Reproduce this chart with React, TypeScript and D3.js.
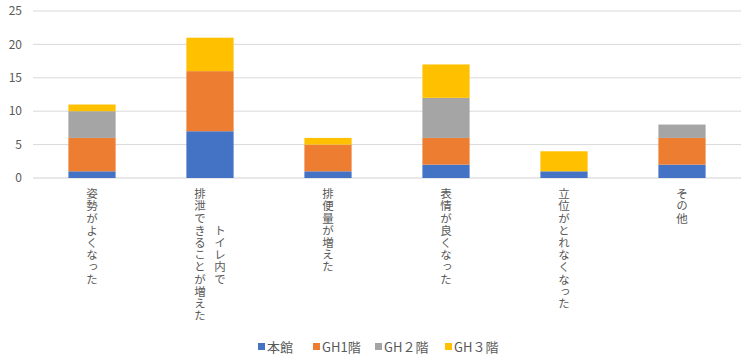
import React from "react";
import * as d3 from "d3";

const categories = [
  "姿勢がよくなった",
  "トイレ内で\n排泄できることが増えた",
  "排便量が増えた",
  "表情が良くなった",
  "立位がとれなくなった",
  "その他",
];
const seriesNames = ["本館", "GH1階", "GH２階", "GH３階"];
const honkan = [1, 7, 1, 2, 1, 2];
const gh1 = [5, 9, 4, 4, 0, 4];
const gh2 = [4, 0, 0, 6, 0, 2];
const gh3 = [1, 5, 1, 5, 3, 0];
const yTicks = [0, 5, 10, 15, 20, 25];
const colors = ["#4472C4", "#ED7D31", "#A5A5A5", "#FFC000"];

const W = 750;
const H = 360;
const left = 33;
const right = 741;
const top = 11;
const bottom = 178;
const font = "'Noto Sans CJK JP', 'Noto Sans', sans-serif";

export default function App() {
  const seriesVals = [honkan, gh1, gh2, gh3];
  const rows = categories.map((c, i) => {
    const r: any = { cat: c };
    seriesNames.forEach((s, j) => (r[s] = seriesVals[j][i]));
    return r;
  });
  const stack = d3.stack<any>().keys(seriesNames)(rows);
  const x = d3.scaleBand().domain(categories).range([left, right]).paddingInner(0.6).paddingOuter(0.3);
  const y = d3.scaleLinear().domain([0, 25]).range([bottom, top]);

  const adv = 12.2;
  const labelTop = 188;

  const legendItems = [
    { x: 258, name: seriesNames[0] },
    { x: 313, name: seriesNames[1] },
    { x: 375, name: seriesNames[2] },
    { x: 445, name: seriesNames[3] },
  ];

  return (
    <svg width={W} height={H} style={{ position: "absolute", left: 0, top: 0, background: "#fff" }}>
      {yTicks.map((t) => (
        <g key={t}>
          <line x1={left} x2={right} y1={y(t)} y2={y(t)} stroke={t === 0 ? "#d0d0d0" : "#d9d9d9"} strokeWidth={1} />
          <text x={22} y={y(t)} dy="0.35em" textAnchor="end" fontSize={12} fill="#595959" fontFamily={font}>
            {t}
          </text>
        </g>
      ))}
      {stack.map((s, j) => (
        <g key={s.key} fill={colors[j]}>
          {s.map((d, i) =>
            d[1] - d[0] > 0 ? (
              <rect key={i} x={x(categories[i])} width={x.bandwidth()} y={y(d[1])} height={y(d[0]) - y(d[1])} />
            ) : null
          )}
        </g>
      ))}
      {categories.map((c) => {
        const lines = c.split("\n");
        const L = Math.max(...lines.map((l) => l.length));
        const cy = labelTop + (L * adv) / 2;
        const cx = (x(c) as number) + x.bandwidth() / 2;
        const n = lines.length;
        return (
          <g key={c}>
            {lines.map((l, i) => (
              <text
                key={i}
                x={cx + ((n - 1) / 2) * 20 - i * 20}
                y={cy}
                textAnchor="middle"
                fontSize={11.5}
                fill="#595959"
                fontFamily={font}
                letterSpacing={0.7}
                style={{ writingMode: "vertical-rl" as any, textOrientation: "upright" as any }}
              >
                {l}
              </text>
            ))}
          </g>
        );
      })}
      {legendItems.map((it, j) => (
        <g key={it.name}>
          <rect x={it.x} y={343} width={7} height={7} fill={colors[j]} />
          <text x={it.x + 9} y={347} dy="0.35em" fontSize={13} fill="#595959" fontFamily={font}>
            {it.name}
          </text>
        </g>
      ))}
    </svg>
  );
}
